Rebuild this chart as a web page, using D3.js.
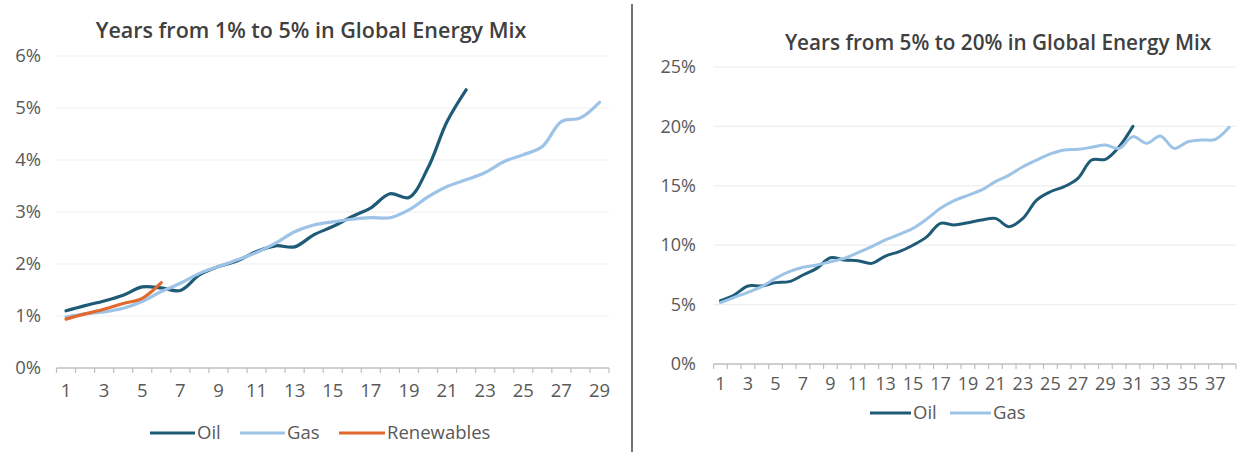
<!DOCTYPE html>
<html><head><meta charset="utf-8">
<script src="https://cdn.jsdelivr.net/npm/d3@7"></script>
<style>
html,body{margin:0;padding:0;background:#fff;}
svg{display:block;font-family:"Open Sans",Lato,sans-serif;}
</style></head>
<body><svg id="c" width="1239" height="452"></svg>
<script>
// ---- data ----
const leftCategories = [1,2,3,4,5,6,7,8,9,10,11,12,13,14,15,16,17,18,19,20,21,22,23,24,25,26,27,28,29];
const leftXTicks = [1,3,5,7,9,11,13,15,17,19,21,23,25,27,29];
const leftYTicks = [0,1,2,3,4,5,6];
const leftOil = [1.10,1.20,1.29,1.40,1.56,1.54,1.49,1.79,1.95,2.06,2.24,2.35,2.33,2.56,2.72,2.91,3.08,3.35,3.28,3.85,4.74,5.35];
const leftGas = [0.98,1.04,1.08,1.15,1.28,1.47,1.63,1.82,1.95,2.08,2.22,2.40,2.62,2.75,2.81,2.86,2.89,2.89,3.04,3.29,3.49,3.62,3.76,3.97,4.10,4.26,4.74,4.81,5.11];
const leftRenewables = [0.94,1.04,1.13,1.24,1.34,1.64];

const rightCategories = [1,2,3,4,5,6,7,8,9,10,11,12,13,14,15,16,17,18,19,20,21,22,23,24,25,26,27,28,29,30,31,32,33,34,35,36,37,38];
const rightXTicks = [1,3,5,7,9,11,13,15,17,19,21,23,25,27,29,31,33,35,37];
const rightYTicks = [0,5,10,15,20,25];
const rightOil = [5.33,5.81,6.57,6.57,6.85,6.93,7.49,8.05,8.95,8.75,8.70,8.47,9.09,9.46,10.0,10.7,11.84,11.7,11.89,12.12,12.26,11.56,12.26,13.8,14.5,14.93,15.63,17.17,17.23,18.29,20.0];
const rightGas = [5.16,5.61,6.03,6.51,7.21,7.77,8.14,8.33,8.61,8.89,9.37,9.88,10.44,10.91,11.42,12.2,13.1,13.75,14.2,14.65,15.35,15.9,16.6,17.17,17.68,18.01,18.07,18.24,18.43,18.15,19.14,18.58,19.19,18.15,18.71,18.86,18.91,19.92];

const COLORS = {Oil:"#1f5b76", Gas:"#9dc3e6", Renewables:"#e2692d"};

const svg = d3.select("#c");

function drawChart(cfg){
  const g = svg.append("g");
  const x = d3.scaleBand().domain(cfg.categories).range(cfg.xRange).paddingInner(0).paddingOuter(0);
  const y = d3.scaleLinear().domain(cfg.yDomain).range(cfg.yRange);
  const cx = c => x(c) + x.bandwidth()/2;

  // gridlines
  g.append("g").selectAll("line").data(cfg.yTicks.filter(d=>d!==0)).join("line")
    .attr("x1", cfg.xRange[0]).attr("x2", cfg.xRange[1])
    .attr("y1", d=>y(d)).attr("y2", d=>y(d))
    .attr("stroke", "#eeeeee").attr("stroke-width", 1.2);

  // y axis labels
  const ya = g.append("g").attr("transform", `translate(${cfg.yLabelX},0)`)
    .call(d3.axisLeft(y).tickValues(cfg.yTicks).tickFormat(d=>d+"%").tickSize(0).tickPadding(0));
  ya.select(".domain").remove();
  ya.selectAll("text").attr("fill","#595959").style("font-size", cfg.yFont+"px").style("font-family","Open Sans");

  // x axis line and tick marks
  const y0 = y(0);
  g.append("line").attr("x1", cfg.xRange[0]).attr("x2", cfg.xRange[1]).attr("y1", y0).attr("y2", y0)
    .attr("stroke","#bfbfbf").attr("stroke-width",1.3);
  const edges = cfg.categories.map(c=>x(c)).concat([x(cfg.categories[cfg.categories.length-1]) + x.bandwidth()]);
  g.append("g").selectAll("line").data(edges).join("line")
    .attr("x1", d=>d).attr("x2", d=>d).attr("y1", y0).attr("y2", y0+5)
    .attr("stroke","#bfbfbf").attr("stroke-width",1.2);

  const xa = g.append("g").attr("transform", `translate(0,${y0})`)
    .call(d3.axisBottom(x).tickValues(cfg.xTicks).tickSize(0).tickPadding(cfg.xPad));
  xa.select(".domain").remove();
  xa.selectAll("text").attr("fill","#595959").style("font-size", cfg.xFont+"px").style("font-family","Open Sans");

  // lines
  const line = d3.line().x((d,i)=>cx(cfg.categories[i])).y(d=>y(d)).curve(d3.curveCatmullRom.alpha(0.5));
  cfg.series.forEach(s=>{
    g.append("path").datum(s.values).attr("d", line)
      .attr("fill","none").attr("stroke", COLORS[s.name]).attr("stroke-width", cfg.lineW)
      .attr("stroke-linejoin","round").attr("stroke-linecap","round");
  });

  // title
  g.append("text").attr("x", cfg.titleX).attr("y", cfg.titleY).attr("text-anchor","middle")
    .attr("fill","#404040").style("font-size", cfg.titleFont+"px").style("font-weight",600)
    .style("font-family","Open Sans").text(cfg.title);

  // legend
  cfg.legend.forEach(l=>{
    g.append("line").attr("x1", l.x1).attr("x2", l.x2).attr("y1", cfg.legendY).attr("y2", cfg.legendY)
      .attr("stroke", COLORS[l.name]).attr("stroke-width", 3.2);
    g.append("text").attr("x", l.x2+2).attr("y", cfg.legendY).attr("dy","0.35em")
      .attr("fill","#595959").style("font-size", cfg.legendFont+"px").style("font-family","Open Sans").text(l.name);
  });
}

drawChart({
  categories:leftCategories, xTicks:leftXTicks, yTicks:leftYTicks,
  xRange:[56.5,609], yDomain:[0,6], yRange:[368,56], yLabelX:41,
  yFont:18.5, xFont:18.5, xPad:16, lineW:3.2,
  series:[{name:"Oil",values:leftOil},{name:"Gas",values:leftGas},{name:"Renewables",values:leftRenewables}],
  title:"Years from 1% to 5% in Global Energy Mix", titleX:311, titleY:38, titleFont:21.5,
  legendY:433, legendFont:18.5,
  legend:[{name:"Oil",x1:150,x2:195},{name:"Gas",x1:240,x2:285},{name:"Renewables",x1:339,x2:385}]
});

drawChart({
  categories:rightCategories, xTicks:rightXTicks, yTicks:rightYTicks,
  xRange:[713.6,1236], yDomain:[0,25], yRange:[364,67], yLabelX:696,
  yFont:18, xFont:18, xPad:13, lineW:3,
  series:[{name:"Oil",values:rightOil},{name:"Gas",values:rightGas}],
  title:"Years from 5% to 20% in Global Energy Mix", titleX:998, titleY:50, titleFont:20.7,
  legendY:413, legendFont:18.5,
  legend:[{name:"Oil",x1:870,x2:911},{name:"Gas",x1:950,x2:991}]
});

// divider
svg.append("line").attr("x1",632).attr("x2",632).attr("y1",4).attr("y2",452)
  .attr("stroke","#404040").attr("stroke-width",1.5);
</script></body></html>
